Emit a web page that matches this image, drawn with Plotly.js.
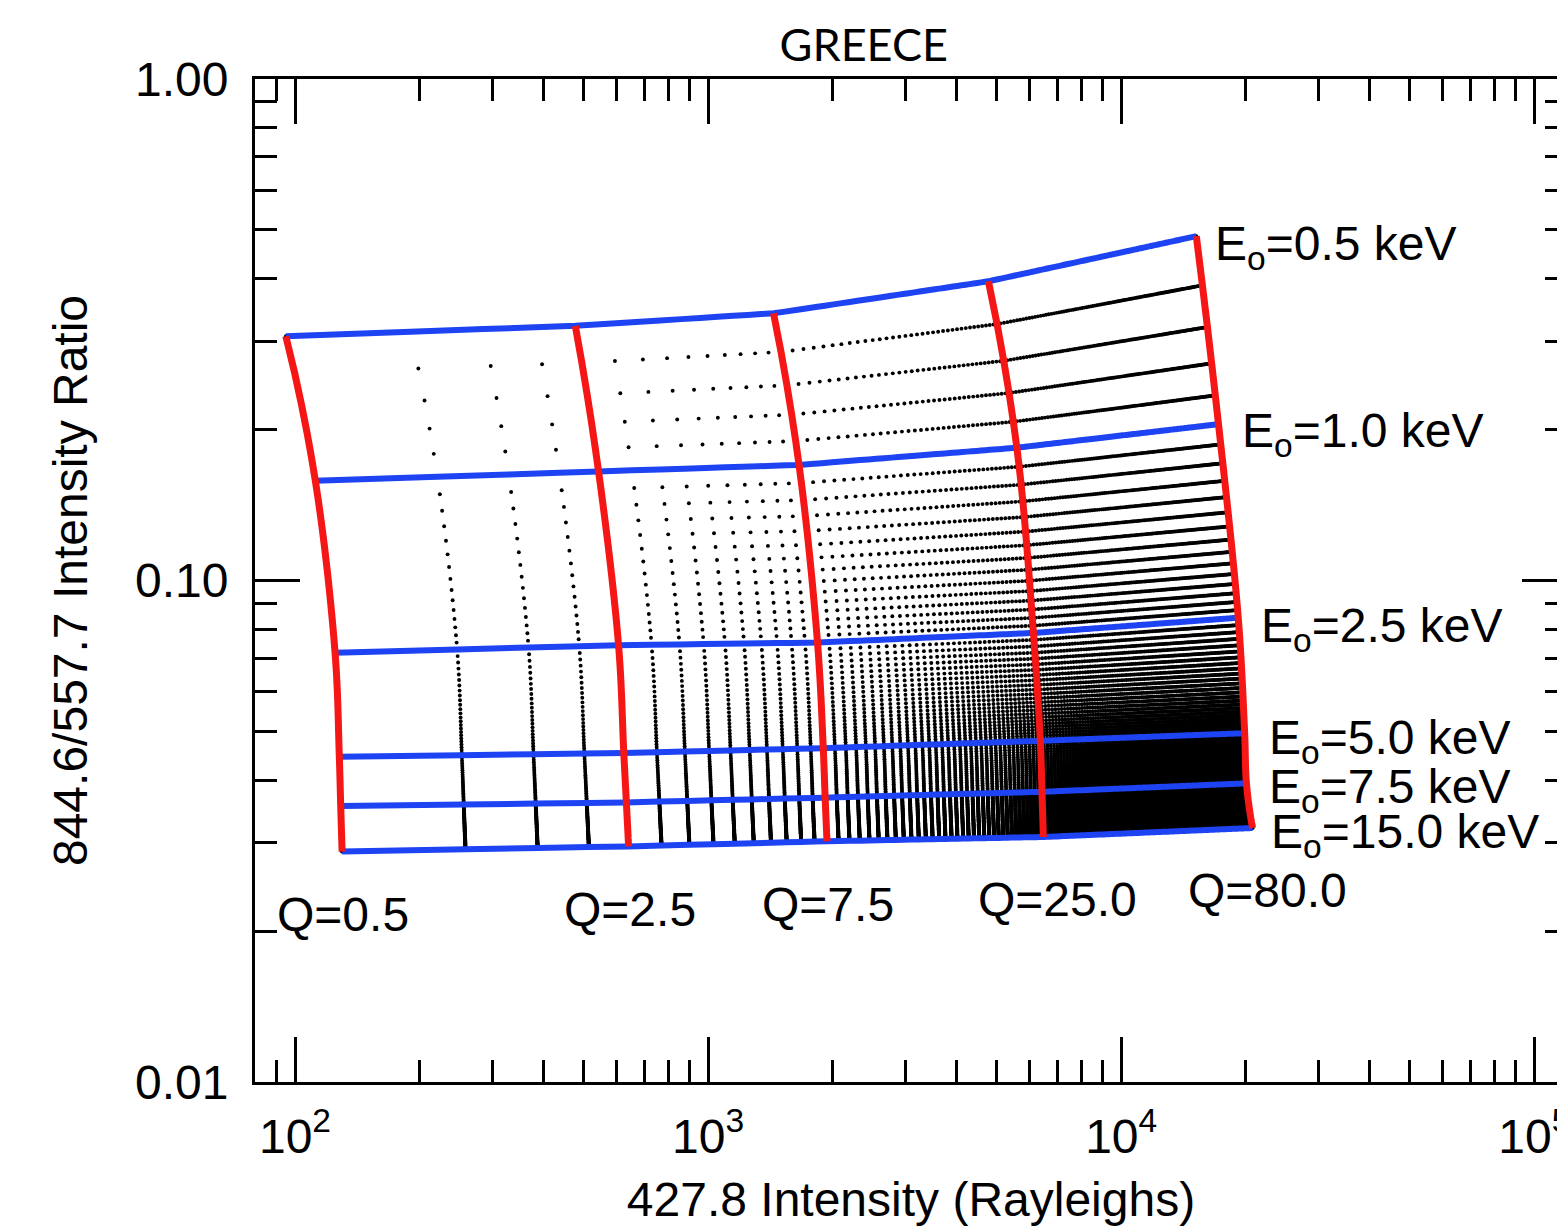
<!DOCTYPE html>
<html>
<head>
<meta charset="utf-8">
<script src="https://cdn.plot.ly/plotly-3.0.1.min.js"></script>
<style>
  html, body { margin: 0; padding: 0; overflow: hidden; background: #ffffff; }
  #chart { width: 1590px; height: 1226px; }
</style>
</head>
<body>
<div id="chart"></div>
<script>
// ---------------- DATA ----------------
// Highlighted characteristic energies (keV) and energy fluxes Q
const E_LEVELS = [0.5, 1.0, 2.5, 5.0, 7.5, 15.0];
const Q_LEVELS = [0.5, 2.5, 7.5, 25.0, 80.0];

// 427.8 nm intensity (Rayleighs) at each highlighted (E, Q) node, columns = Q_LEVELS
const INT_E05  = [95,  477, 1440, 4770, 15200];
const INT_E10  = [112, 543, 1660, 5590, 17200];
const INT_E25  = [125, 607, 1840, 6130, 19200];
const INT_E50  = [128, 625, 1900, 6370, 19900];
const INT_E75  = [129, 634, 1920, 6430, 20100];
const INT_E150 = [130, 642, 1940, 6480, 20800];

// 844.6/557.7 intensity ratio at the same nodes
const RAT_E05  = [0.307,  0.322,  0.341,  0.395,  0.486];
const RAT_E10  = [0.158,  0.165,  0.170,  0.184,  0.205];
const RAT_E25  = [0.0718, 0.0743, 0.0752, 0.0786, 0.0843];
const RAT_E50  = [0.0445, 0.0453, 0.0463, 0.0479, 0.0496];
const RAT_E75  = [0.0355, 0.0361, 0.0369, 0.0379, 0.0394];
const RAT_E150 = [0.0288, 0.0295, 0.0302, 0.0308, 0.0321];

// Model mesh parameters (black dots): Q in steps of 0.5, E in steps of 0.1 keV
const MESH_Q = [
  0.5,1,1.5,2,2.5,3,3.5,4,4.5,5,5.5,6,6.5,7,7.5,8,8.5,9,9.5,10,
  10.5,11,11.5,12,12.5,13,13.5,14,14.5,15,15.5,16,16.5,17,17.5,18,18.5,19,19.5,20,
  20.5,21,21.5,22,22.5,23,23.5,24,24.5,25,25.5,26,26.5,27,27.5,28,28.5,29,29.5,30,
  30.5,31,31.5,32,32.5,33,33.5,34,34.5,35,35.5,36,36.5,37,37.5,38,38.5,39,39.5,40,
  40.5,41,41.5,42,42.5,43,43.5,44,44.5,45,45.5,46,46.5,47,47.5,48,48.5,49,49.5,50,
  50.5,51,51.5,52,52.5,53,53.5,54,54.5,55,55.5,56,56.5,57,57.5,58,58.5,59,59.5,60,
  60.5,61,61.5,62,62.5,63,63.5,64,64.5,65,65.5,66,66.5,67,67.5,68,68.5,69,69.5,70,
  70.5,71,71.5,72,72.5,73,73.5,74,74.5,75,75.5,76,76.5,77,77.5,78,78.5,79,79.5,80
];
const MESH_E = [
  0.5,0.6,0.7,0.8,0.9,
  1.0,1.1,1.2,1.3,1.4,1.5,1.6,1.7,1.8,1.9,
  2.0,2.1,2.2,2.3,2.4,2.5,2.6,2.7,2.8,2.9,
  3.0,3.1,3.2,3.3,3.4,3.5,3.6,3.7,3.8,3.9,
  4.0,4.1,4.2,4.3,4.4,4.5,4.6,4.7,4.8,4.9,
  5.0,5.1,5.2,5.3,5.4,5.5,5.6,5.7,5.8,5.9,
  6.0,6.1,6.2,6.3,6.4,6.5,6.6,6.7,6.8,6.9,
  7.0,7.1,7.2,7.3,7.4,7.5,7.6,7.7,7.8,7.9,
  8.0,8.1,8.2,8.3,8.4,8.5,8.6,8.7,8.8,8.9,
  9.0,9.1,9.2,9.3,9.4,9.5,9.6,9.7,9.8,9.9,
  10.0,10.1,10.2,10.3,10.4,10.5,10.6,10.7,10.8,10.9,
  11.0,11.1,11.2,11.3,11.4,11.5,11.6,11.7,11.8,11.9,
  12.0,12.1,12.2,12.3,12.4,12.5,12.6,12.7,12.8,12.9,
  13.0,13.1,13.2,13.3,13.4,13.5,13.6,13.7,13.8,13.9,
  14.0,14.1,14.2,14.3,14.4,14.5,14.6,14.7,14.8,14.9,
  15.0
];

// Axis ticks
const X_MAJOR = [100, 1000, 10000, 100000];
const X_MAJOR_TEXT = ['10<sup>2</sup>', '10<sup>3</sup>', '10<sup>4</sup>', '10<sup>5</sup>'];
const X_MINOR = [90, 200, 300, 400, 500, 600, 700, 800, 900,
                 2000, 3000, 4000, 5000, 6000, 7000, 8000, 9000,
                 20000, 30000, 40000, 50000, 60000, 70000, 80000, 90000];
const Y_MAJOR = [0.01, 0.1, 1.0];
const Y_MAJOR_TEXT = ['0.01', '0.10', '1.00'];
const Y_MINOR = [0.02, 0.03, 0.04, 0.05, 0.06, 0.07, 0.08, 0.09,
                 0.2, 0.3, 0.4, 0.5, 0.6, 0.7, 0.8, 0.9];
const X_RANGE = [80, 120000];
const Y_RANGE = [0.01, 1.0];

// ---------------- STYLE ----------------
const BLUE = '#1d43f2';
const RED = '#f51616';
const FONT = 'Liberation Sans, Arial, Helvetica, sans-serif';
const E_LABEL_SHIFT = [[17, -11], [21, -10], [21, -11], [22, -8], [21, -7], [16, -7]];

// ---------------- BUILD ----------------
const lg = v => Math.log10(v);
const INTENSITY = [INT_E05, INT_E10, INT_E25, INT_E50, INT_E75, INT_E150];
const RATIO = [RAT_E05, RAT_E10, RAT_E25, RAT_E50, RAT_E75, RAT_E150];

const hiddenAxis = {
  showgrid: false, showline: false, startline: false, endline: false,
  showticklabels: 'none', minorgridcount: 0, tickmode: 'array', tickvals: []
};

const traces = [];
traces.push({
  type: 'carpet', carpet: 'grid',
  a: Q_LEVELS.map(lg), b: E_LEVELS.map(lg),
  x: INTENSITY.map(r => r.map(lg)),
  y: RATIO.map(r => r.map(lg)),
  aaxis: Object.assign({ smoothing: 0 }, hiddenAxis),
  baxis: Object.assign({ smoothing: 1 }, hiddenAxis)
});

// mesh of model points
const meshA = [], meshB = [];
MESH_E.forEach(e => MESH_Q.forEach(q => { meshA.push(lg(q)); meshB.push(lg(e)); }));
traces.push({
  type: 'scattercarpet', carpet: 'grid', a: meshA, b: meshB,
  mode: 'markers', marker: { color: '#000000', size: 3.9 }, hoverinfo: 'skip'
});

// constant-energy curves (blue)
E_LEVELS.forEach(e => traces.push({
  type: 'scattercarpet', carpet: 'grid',
  a: MESH_Q.map(lg), b: MESH_Q.map(() => lg(e)),
  mode: 'lines', line: { color: BLUE, width: 6 }, hoverinfo: 'skip'
}));
// constant-flux curves (red)
Q_LEVELS.forEach(q => traces.push({
  type: 'scattercarpet', carpet: 'grid',
  a: MESH_E.map(() => lg(q)), b: MESH_E.map(lg),
  mode: 'lines', line: { color: RED, width: 7 }, hoverinfo: 'skip'
}));

const annotations = [];
E_LEVELS.forEach((e, j) => {
  const row = INTENSITY[j], rrow = RATIO[j];
  annotations.push({
    xref: 'x', yref: 'y', x: lg(row[row.length - 1]), y: lg(rrow[rrow.length - 1]),
    text: 'E<sub>o</sub>=' + e.toFixed(1) + ' keV', showarrow: false,
    xanchor: 'left', yanchor: 'middle',
    xshift: E_LABEL_SHIFT[j][0], yshift: E_LABEL_SHIFT[j][1],
    font: { family: FONT, size: 48, color: '#000' }
  });
});
const last = INTENSITY.length - 1;
Q_LEVELS.forEach((q, i) => {
  annotations.push({
    xref: 'x', yref: 'y', x: lg(INTENSITY[last][i]), y: lg(RATIO[last][i]),
    text: 'Q=' + q.toFixed(1), showarrow: false,
    xanchor: 'left', yanchor: 'middle', xshift: -67, yshift: -63,
    font: { family: FONT, size: 48, color: '#000' }
  });
});

const axisCommon = {
  type: 'linear', showgrid: false, zeroline: false,
  showline: true, linecolor: '#000', linewidth: 3, mirror: 'ticks',
  ticks: 'inside', ticklen: 45, tickwidth: 3, tickcolor: '#000',
  tickfont: { family: FONT, size: 48, color: '#000' },
  tickmode: 'array', fixedrange: true
};

const layout = {
  width: 1590, height: 1226,
  margin: { l: 255, r: 23, t: 79, b: 144 },
  paper_bgcolor: '#ffffff', plot_bgcolor: '#ffffff',
  showlegend: false, hovermode: false,
  title: {
    text: 'GREECE', font: { family: 'Lato, sans-serif', size: 45, color: '#000' },
    xref: 'paper', x: 0.464, xanchor: 'center',
    yref: 'container', y: 1 - 45 / 1226, yanchor: 'middle'
  },
  xaxis: Object.assign({}, axisCommon, {
    range: X_RANGE.map(lg),
    tickvals: X_MAJOR.map(lg), ticktext: X_MAJOR_TEXT,
    ticklabelstandoff: 10,
    minor: { tickmode: 'array', tickvals: X_MINOR.map(lg), ticks: 'inside', ticklen: 22, tickwidth: 3, tickcolor: '#000' },
    title: { text: '427.8 Intensity (Rayleighs)', font: { family: FONT, size: 48, color: '#000' }, standoff: 22 }
  }),
  yaxis: Object.assign({}, axisCommon, {
    range: Y_RANGE.map(lg),
    tickvals: Y_MAJOR.map(lg), ticktext: Y_MAJOR_TEXT,
    ticklabelstandoff: 14,
    minor: { tickmode: 'array', tickvals: Y_MINOR.map(lg), ticks: 'inside', ticklen: 22, tickwidth: 3, tickcolor: '#000' },
    title: { text: '844.6/557.7 Intensity Ratio', font: { family: FONT, size: 48, color: '#000' }, standoff: 33 }
  }),
  annotations: annotations
};

Plotly.newPlot('chart', traces, layout, { staticPlot: true, displayModeBar: false }).then(gd => {
  // let the boundary curves show their full width instead of being half-clipped by the carpet outline
  gd.querySelectorAll('.js-line').forEach(n => n.removeAttribute('clip-path'));
});
</script>
</body>
</html>
